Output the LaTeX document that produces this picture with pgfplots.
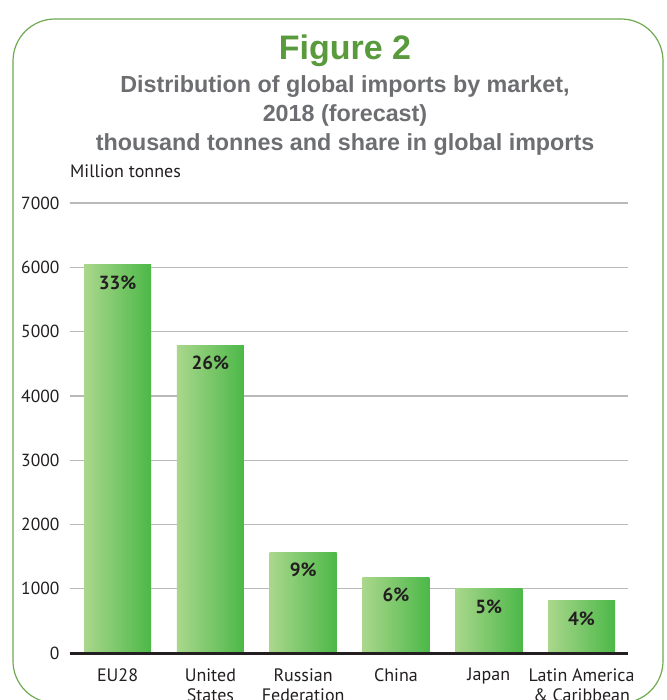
\documentclass[border=0pt]{standalone}
\usepackage{fontspec}
\setmainfont{PT Sans}
\newfontfamily\arialf{Liberation Sans}
\usepackage{pgfplots}
\pgfplotsset{compat=1.18}
\definecolor{figgreen}{RGB}{88,154,60}
\definecolor{subgray}{RGB}{109,110,113}
\definecolor{barlight}{RGB}{170,215,140}
\definecolor{bardark}{RGB}{76,184,72}
\definecolor{gridgray}{RGB}{185,185,185}
\definecolor{txt}{RGB}{35,31,32}
\definecolor{framegreen}{RGB}{110,170,80}
\begin{document}
\begin{tikzpicture}[x=1pt,y=1pt]
\useasboundingbox (0,0) rectangle (666,700);
\clip (0,0) rectangle (666,700);
\fill[white] (0,0) rectangle (666,700);
\draw[framegreen, line width=1.2pt, rounded corners=42pt] (13,-3) rectangle (663,681);
\node[figgreen, anchor=base, font=\arialf\bfseries\fontsize{34}{40}\selectfont] at (345,640) {Figure 2};
\node[subgray, anchor=base, font=\arialf\bfseries\fontsize{23.3}{25}\selectfont] at (345,607) {Distribution of global imports by market,};
\node[subgray, anchor=base, font=\arialf\bfseries\fontsize{23.3}{25}\selectfont] at (345,578) {2018 (forecast)};
\node[subgray, anchor=base, font=\arialf\bfseries\fontsize{23.3}{25}\selectfont] at (345,549) {thousand tonnes and share in global imports};
\node[txt, anchor=base west, inner sep=0, font=\fontsize{18}{20}\selectfont] at (70,522) {Million tonnes};
\begin{axis}[
  at={(75,73)}, anchor=south west,
  scale only axis, width=558pt, height=450pt,
  xmin=-0.517, xmax=5.496, ymin=0, ymax=7000,
  ytick={0,1000,...,7000},
  xtick={0,1,2,3,4,5},
  xticklabels={EU28,United\\States,Russian\\Federation,China,Japan,Latin America\\\& Caribbean},
  axis line style={draw=none},
  major tick length=0pt,
  ymajorgrids,
  no markers,
  grid style={gridgray, line width=1.3pt},
  /pgf/number format/assume math mode=true,
  /pgf/number format/1000 sep={},
  yticklabel style={anchor=east, inner sep=0pt, xshift=-10pt, text=txt, font=\fontsize{17.5}{20}\selectfont},
  xticklabel style={anchor=north, inner sep=0pt, yshift=-15pt, align=center, text=txt, font=\fontsize{18}{20}\selectfont},
  clip=false,
  every axis plot/.append style={ybar, bar width=67pt, bar shift=0pt, draw=none, mark=none,
    left color=barlight, middle color=bardark!72!barlight, right color=bardark,
    nodes near coords, point meta=explicit symbolic,
    nodes near coords style={anchor=north, inner sep=0pt, yshift=-11pt, text=txt, font=\bfseries\fontsize{19}{20}\selectfont}},
]
\addplot[] coordinates {(0,6040) [33\%]};
\addplot[] coordinates {(1,4790) [26\%]};
\addplot[] coordinates {(2,1570) [9\%]};
\addplot[] coordinates {(3,1180) [6\%]};
\addplot[] coordinates {(4,1005) [5\%]};
\addplot[] coordinates {(5,820) [4\%]};
\draw[txt, line width=3pt] (axis cs:-0.517,0) -- (axis cs:5.496,0);
\end{axis}
\end{tikzpicture}
\end{document}
